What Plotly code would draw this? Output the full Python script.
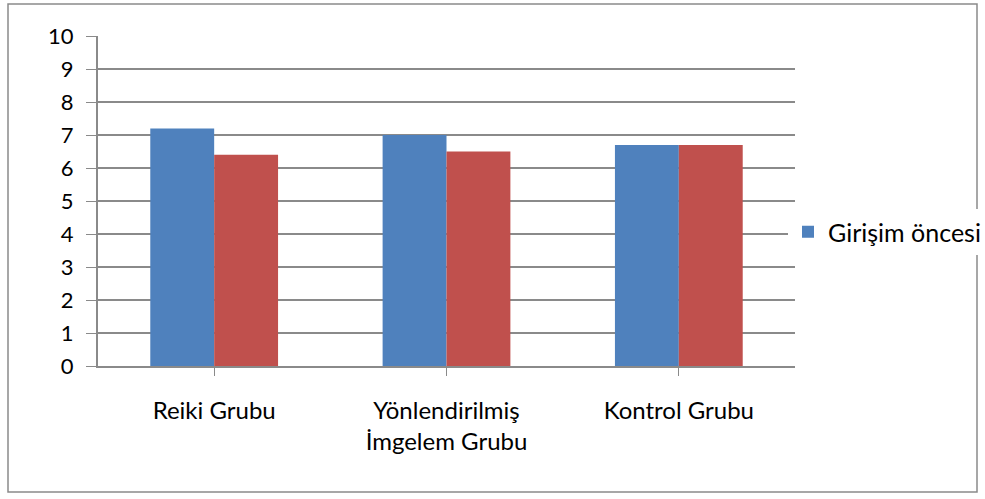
import plotly.graph_objects as go

categories = ["Reiki Grubu", "Yönlendirilmiş<br>İmgelem Grubu", "Kontrol Grubu"]
oncesi = [7.2, 7.0, 6.7]
sonrasi = [6.4, 6.5, 6.7]
y_ticks = list(range(0, 11))

W, H = 985, 499
ml, mr, mt, mb = 98, 190, 36, 133
pw, ph = W - ml - mr, H - mt - mb

fig = go.Figure()
fig.add_trace(go.Bar(x=categories, y=oncesi, name="Girişim öncesi",
                     marker=dict(color="#4F81BD", line=dict(width=0))))
fig.add_trace(go.Bar(x=categories, y=sonrasi, name="Girişim sonrası", showlegend=False,
                     marker=dict(color="#C0504D", line=dict(width=0))))

def px2x(p):
    return (p - ml) / pw

def py2y(p):
    return 1 - (p - mt) / ph

fig.add_shape(type="rect", xref="paper", yref="paper",
              x0=px2x(8), x1=px2x(977), y0=py2y(492), y1=py2y(4),
              line=dict(color="#8a8a8a", width=1.5), layer="below")

fig.update_layout(
    width=W, height=H,
    margin=dict(l=ml, r=mr, t=mt, b=mb, autoexpand=False),
    paper_bgcolor="white", plot_bgcolor="white",
    barmode="group", bargap=0.45, bargroupgap=0,
    font=dict(family="Lato, Open Sans, sans-serif", color="#000000", size=20),
    legend=dict(x=px2x(788), y=py2y(232), xanchor="left", yanchor="middle",
                font=dict(size=25), itemwidth=30, traceorder="normal"),
    xaxis=dict(showgrid=False, showline=True, linecolor="#8a8a8a", linewidth=2,
               ticks="outside", ticklen=8, tickcolor="#8a8a8a",
               tickfont=dict(size=24), ticklabelstandoff=14, automargin=False),
    yaxis=dict(range=[0, 10], tickvals=y_ticks, showgrid=True, gridcolor="#8a8a8a",
               gridwidth=2, showline=True, linecolor="#8a8a8a", linewidth=2,
               ticks="outside", ticklen=10, tickcolor="#8a8a8a",
               tickfont=dict(size=22), zeroline=False, automargin=False,
               ticklabelstandoff=8),
)
fig.write_html("out.html", config={"displayModeBar": False},
               post_script="document.body.style.margin='0';")
